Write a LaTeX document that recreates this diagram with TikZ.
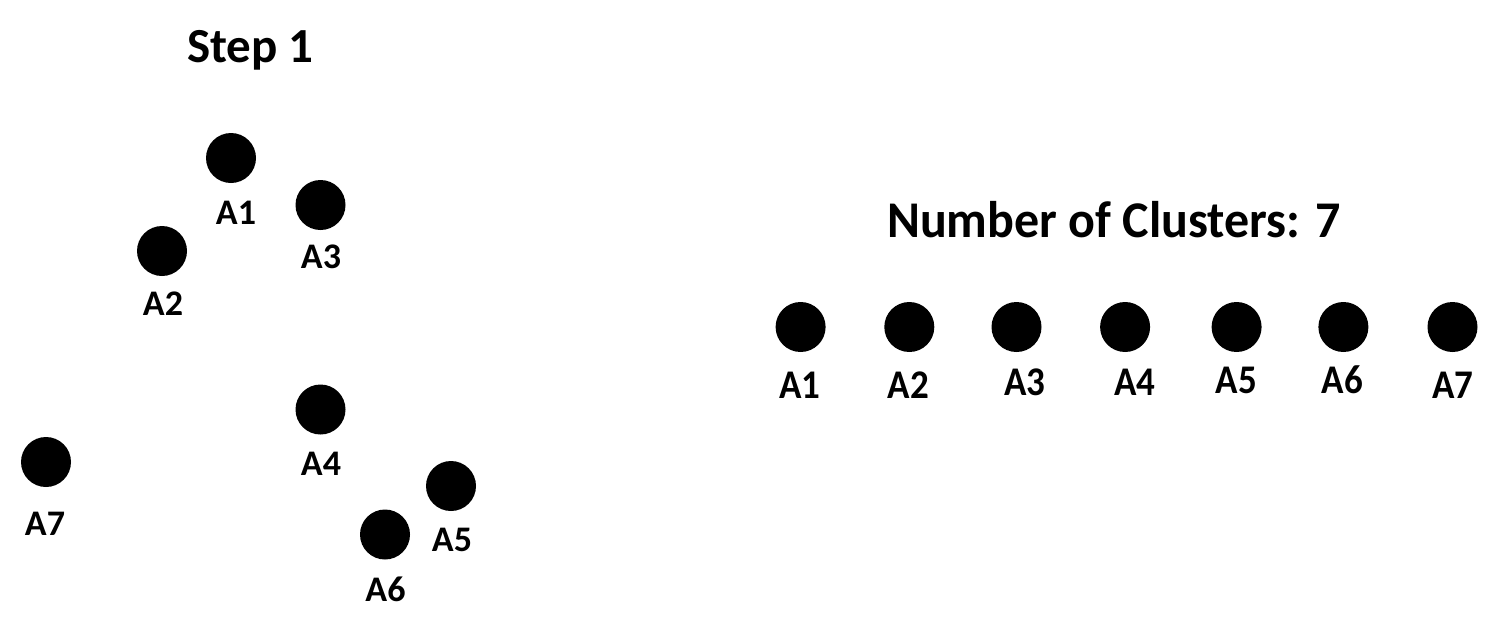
\documentclass[tikz,border=0pt]{standalone}
\usepackage{fontspec}
\usepackage{graphicx}
\setmainfont{Carlito}
\begin{document}
\begin{tikzpicture}[x=1pt,y=-1pt,
  dot/.style={circle,fill=black,draw=none,minimum size=50pt,inner sep=0pt},
  lbl/.style={inner sep=0pt,font=\fontsize{36}{42}\selectfont\bfseries},
  rlbl/.style={inner sep=0pt,font=\fontsize{37}{44}\selectfont\bfseries},
  ttl/.style={inner sep=0pt,anchor=base,font=\fontsize{49}{58}\selectfont\bfseries},
  ttlb/.style={inner sep=0pt,anchor=base,font=\fontsize{50}{60}\selectfont\bfseries}]
\useasboundingbox[fill=white] (0,0) rectangle (1504,632);
% titles
\node[ttl] (step) at (250.5,62) {Step 1};
\node[ttlb] (num) at (1114,237) {\scalebox{1}[1.03]{Number of Clusters: 7}};
% left scatter
\node[dot] (p1) at (231,158) {};
\node[dot] (p2) at (162,251) {};
\node[dot] (p3) at (320.5,205) {};
\node[dot] (p4) at (320.5,409.5) {};
\node[dot] (p5) at (451,486) {};
\node[dot] (p6) at (385,534.5) {};
\node[dot] (p7) at (46,462) {};
\node[lbl] (t1) at (236,213) {A1};
\node[lbl] (t2) at (163,304) {A2};
\node[lbl] (t3) at (321,257) {A3};
\node[lbl] (t4) at (321,464) {A4};
\node[lbl] (t5) at (452,540) {A5};
\node[lbl] (t6) at (385.5,589) {A6};
\node[lbl] (t7) at (45,524) {A7};
% right row
\node[dot] (q1) at (800.6,327) {};
\node[dot] (q2) at (909.3,327) {};
\node[dot] (q3) at (1016.5,327) {};
\node[dot] (q4) at (1125.1,327) {};
\node[dot] (q5) at (1236.6,327) {};
\node[dot] (q6) at (1343.4,327) {};
\node[dot] (q7) at (1452.5,327) {};
\node[rlbl] (r1) at (800,385) {\scalebox{1}[1.1]{A1}};
\node[rlbl] (r2) at (908.5,385) {\scalebox{1}[1.1]{A2}};
\node[rlbl] (r3) at (1025,382) {\scalebox{1}[1.1]{A3}};
\node[rlbl] (r4) at (1135,382) {\scalebox{1}[1.1]{A4}};
\node[rlbl] (r5) at (1236.5,380) {\scalebox{1}[1.1]{A5}};
\node[rlbl] (r6) at (1342.5,380) {\scalebox{1}[1.1]{A6}};
\node[rlbl] (r7) at (1453,385) {\scalebox{1}[1.1]{A7}};
\end{tikzpicture}
\end{document}
